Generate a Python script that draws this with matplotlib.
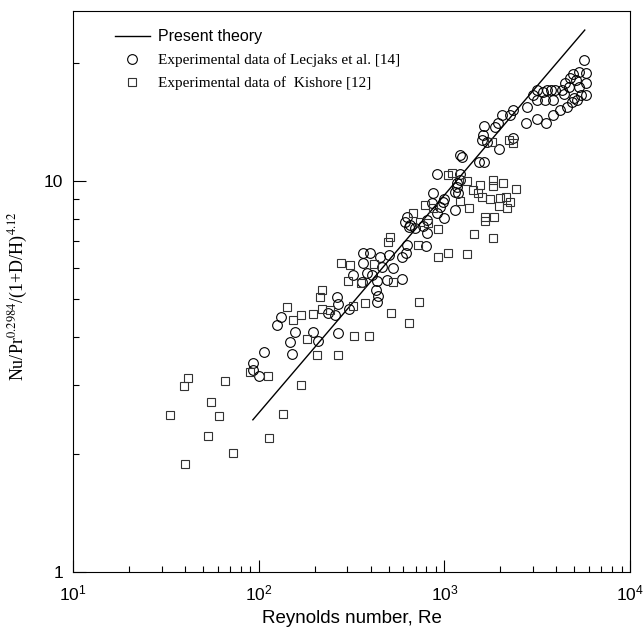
import numpy as np
import matplotlib
matplotlib.use("Agg")
import matplotlib.pyplot as plt
from matplotlib.ticker import FixedLocator, NullFormatter, FixedFormatter

plt.rcParams['mathtext.fontset'] = 'stix'

# theory line
theory_re = [93, 300, 1000, 3000, 5700]
theory_nu = [2.45, 4.7, 9.2, 17.0, 24.3]

# Lecjaks et al. [14]
lec_re = [93, 93, 100, 107, 151, 147, 209, 157, 196, 125, 132, 236, 257, 264, 267, 267,
          306, 322, 360, 383, 407, 364, 364, 397, 450, 503, 591, 621, 461, 529, 591, 491,
          434, 428, 439, 434, 629, 806, 796, 653, 613, 629, 645, 694, 767, 806, 868, 858,
          983, 947, 912, 995, 995, 1141, 912, 1213, 1213, 1169, 1141, 1184, 1169, 1213, 1244,
          1536, 1634, 1614, 1594, 1696, 1634, 1873, 1944, 2043, 1968, 2341, 2256, 2341, 2784,
          2750, 3152, 3525, 3844, 4193, 4574, 4988, 5176, 5440, 5788, 4866, 3000, 3152, 3152,
          3395, 3568, 3481, 3750, 3844, 3940, 4298, 4406, 4688, 4461, 4747, 5113, 5306, 5788,
          5306, 5788, 4927, 5646]
lec_nu = [3.42, 3.29, 3.17, 3.65, 3.61, 3.88, 3.90, 4.11, 4.11, 4.28, 4.49, 4.60, 4.54, 5.05, 4.85, 4.09,
          4.71, 5.75, 5.52, 5.82, 5.75, 6.17, 6.54, 6.54, 6.39, 6.47, 6.39, 6.54, 6.03, 5.99, 5.62, 5.58,
          5.55, 5.26, 5.08, 4.90, 6.86, 7.36, 6.82, 7.72, 7.86, 8.09, 7.63, 7.58, 7.67, 7.95, 9.32, 8.78,
          8.84, 8.58, 8.28, 8.99, 8.04, 8.43, 10.4, 10.4, 10.06, 9.65, 9.37, 9.32, 9.88, 11.65, 11.52,
          11.18, 11.18, 13.1, 12.73, 12.58, 13.82, 13.74, 14.07, 14.75, 12.07, 12.88, 14.75, 15.19, 15.46,
          14.07, 14.4, 14.07, 14.75, 15.19, 15.46, 16.3, 16.1, 16.6, 16.6, 15.92, 16.6, 17.09, 16.1,
          16.89, 17.09, 16.1, 17.09, 16.1, 17.09, 17.09, 16.7, 17.4, 17.8, 18.34, 18.13, 17.4, 17.8,
          19.0, 18.9, 18.77, 20.4]

# Kishore [12]
kis_re = [33.3, 39.6, 41.6, 55.4, 61.1, 53.3, 40.1, 65.9, 72.7, 89.8, 112, 135, 114, 169,
          278, 219, 214, 142, 169, 153, 196, 219, 242, 182, 206, 267, 310, 303, 356, 418,
          529, 924, 1046, 1323, 322, 374, 730, 516, 645, 326, 393, 509, 497, 721, 677, 739,
          816, 786, 868, 924, 1046, 1099, 1323, 1426, 1555, 1827, 1827, 2068, 2430, 1517,
          1594, 1760, 1992, 2146, 2256, 1968, 2173, 1213, 1357, 1654, 1850, 1654, 1443, 1827,
          2228, 2341, 1804]
kis_nu = [2.52, 2.99, 3.13, 2.72, 2.51, 2.23, 1.89, 3.08, 2.02, 3.25, 3.17, 2.54, 2.20, 3.01,
          6.17, 5.26, 5.05, 4.76, 4.54, 4.41, 4.57, 4.71, 4.68, 3.94, 3.59, 3.59, 6.10, 5.55, 5.48, 6.13,
          5.52, 6.39, 6.54, 6.51, 4.79, 4.88, 4.90, 4.60, 4.33, 4.01, 4.01, 7.19, 6.98, 6.86, 8.28, 7.86,
          7.81, 8.68, 8.53, 7.54, 10.36, 10.48, 10.0, 9.48, 9.77, 10.06, 9.71, 9.88, 9.54, 9.32,
          9.1, 8.99, 9.05, 9.1, 8.84, 8.63, 8.53, 8.89, 8.53, 8.09, 8.09, 7.90, 7.32, 7.15,
          12.73, 12.51, 12.58]

fig = plt.figure(figsize=(6.44, 6.42), dpi=100)
ax = fig.add_axes([0.1134, 0.109, 0.865, 0.874])

ax.plot(theory_re, theory_nu, color='black', lw=1.0, label='Present theory')
ax.plot(lec_re, lec_nu, 'o', ms=7.0, mfc='none', mec='black', mew=0.8,
        label='Experimental data of Lecjaks et al. [14]')
ax.plot(kis_re, kis_nu, 's', ms=6.4, mfc='none', mec='#333333', mew=0.8,
        label='Experimental data of  Kishore [12]')

ax.set_xscale('log')
ax.set_yscale('log')
ax.set_xlim(10, 1e4)
ax.set_ylim(1, 27.2)

ax.yaxis.set_major_locator(FixedLocator([1, 10]))
ax.yaxis.set_major_formatter(FixedFormatter(['1', '10']))
ax.yaxis.set_minor_locator(FixedLocator([2, 3, 4, 5, 6, 7, 8, 9, 20]))
ax.yaxis.set_minor_formatter(NullFormatter())

ax.tick_params(which='both', direction='in', top=False, right=False,
               labelsize=12.5, colors='black')
ax.tick_params(which='major', length=9, width=0.8)
ax.tick_params(which='minor', length=4.5, width=0.8)
ax.tick_params(axis='x', which='major', pad=8)
ax.tick_params(axis='y', which='major', pad=7)
for lab in ax.get_xticklabels() + ax.get_yticklabels():
    lab.set_fontfamily('Liberation Sans')
for s in ax.spines.values():
    s.set_linewidth(0.8)

ax.set_xlabel('Reynolds number, Re', fontsize=13.5, family='Liberation Sans')
ax.xaxis.set_label_coords(0.5, -0.068)
ax.set_ylabel(r'Nu/Pr$^{0.2984}$/(1+D/H)$^{4.12}$', fontsize=13, family='Liberation Serif')
ax.yaxis.set_label_coords(-0.077, 0.492)

leg = ax.legend(loc='upper left', bbox_to_anchor=(0.075, 0.967), frameon=False,
                borderpad=0, borderaxespad=0, handlelength=2.3, handletextpad=0.5,
                labelspacing=0.6, prop={'family': 'Liberation Serif', 'size': 11})
leg.get_texts()[0].set_fontfamily('Liberation Sans')
leg.get_texts()[0].set_fontsize(11.5)

fig.savefig('out.png', dpi=100)
